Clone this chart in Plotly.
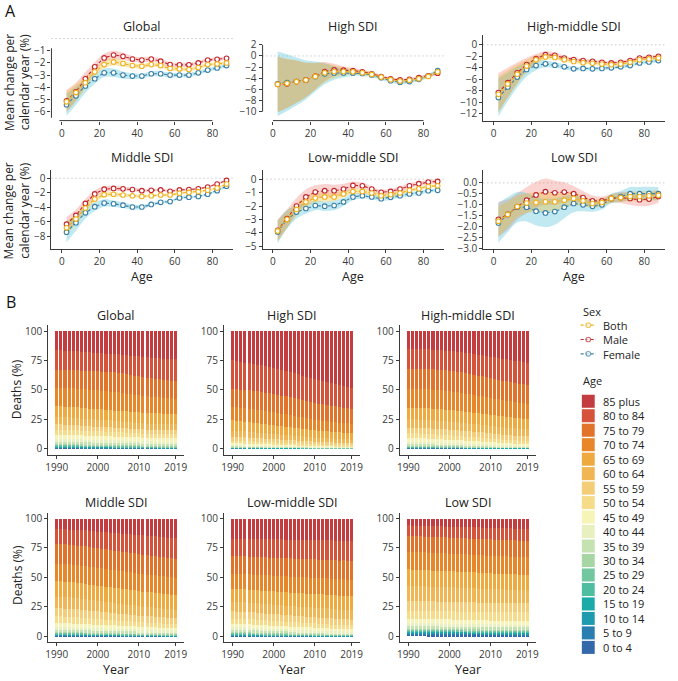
import plotly.graph_objects as go

W, H = 678, 681
FONT = "Open Sans"

# ---------------- Panel A: mean annual change by age ----------------
AGES = [2.5, 7.5, 12.5, 17.5, 22.5, 27.5, 32.5, 37.5, 42.5, 47.5,
        52.5, 57.5, 62.5, 67.5, 72.5, 77.5, 82.5, 87.5]

GLOBAL_BOTH = [-5.19, -4.43, -3.62, -2.73, -2.14, -1.92, -2.05, -2.22, -2.27, -2.14, -2.22, -2.46, -2.49, -2.54, -2.38, -2.14, -2.08, -2.00]
GLOBAL_MALE = [-5.11, -4.38, -3.30, -2.32, -1.59, -1.35, -1.46, -1.68, -1.76, -1.68, -1.86, -2.14, -2.16, -2.16, -2.00, -1.76, -1.70, -1.62]
GLOBAL_FEMALE = [-5.43, -4.70, -3.89, -3.30, -2.81, -2.81, -3.00, -3.08, -3.08, -2.89, -2.89, -3.00, -3.00, -3.00, -2.81, -2.59, -2.41, -2.22]
GLOBAL_BOTH_CI = [0.85, 0.7, 0.5, 0.35, 0.3, 0.3, 0.25, 0.2, 0.18, 0.18, 0.18, 0.18, 0.16, 0.15, 0.14, 0.13, 0.13, 0.13]
GLOBAL_MALE_CI = [0.9, 0.75, 0.55, 0.4, 0.35, 0.35, 0.3, 0.25, 0.2, 0.2, 0.2, 0.2, 0.18, 0.18, 0.16, 0.15, 0.15, 0.15]
GLOBAL_FEMALE_CI = [0.9, 0.75, 0.55, 0.4, 0.35, 0.35, 0.3, 0.25, 0.2, 0.2, 0.2, 0.2, 0.18, 0.17, 0.16, 0.15, 0.15, 0.15]

HIGH_BOTH = [-5.09, -4.91, -4.62, -4.32, -3.67, -3.02, -2.79, -2.79, -2.85, -3.02, -3.32, -3.79, -4.26, -4.50, -4.38, -4.09, -3.67, -2.85]
HIGH_MALE = [-5.1, -5.0, -4.6, -4.3, -3.6, -2.8, -2.5, -2.55, -2.65, -2.85, -3.2, -3.7, -4.1, -4.3, -4.2, -3.9, -3.55, -3.1]
HIGH_FEMALE = [-5.0, -4.8, -4.6, -4.3, -3.7, -3.2, -3.05, -3.05, -3.05, -3.15, -3.4, -3.9, -4.45, -4.7, -4.6, -4.2, -3.6, -2.65]
HIGH_BOTH_CI = [5.0, 4.4, 3.8, 3.1, 2.4, 1.7, 1.1, 0.7, 0.5, 0.4, 0.35, 0.3, 0.3, 0.3, 0.3, 0.3, 0.3, 0.3]
HIGH_MALE_CI = [5.0, 4.4, 3.8, 3.1, 2.4, 1.7, 1.1, 0.7, 0.5, 0.4, 0.35, 0.3, 0.3, 0.3, 0.3, 0.3, 0.3, 0.3]
HIGH_FEMALE_CI = [5.8, 5.1, 4.3, 3.5, 2.7, 1.9, 1.2, 0.8, 0.55, 0.45, 0.4, 0.35, 0.35, 0.35, 0.35, 0.35, 0.35, 0.35]

HM_BOTH = [-8.6, -6.8, -5.1, -3.7, -2.6, -2.1, -2.2, -2.6, -2.9, -3.1, -3.2, -3.35, -3.45, -3.35, -3.05, -2.6, -2.45, -2.3]
HM_MALE = [-8.29, -6.57, -4.86, -3.43, -2.40, -1.71, -1.83, -2.29, -2.57, -2.74, -2.86, -3.03, -3.14, -3.03, -2.74, -2.29, -2.17, -2.00]
HM_FEMALE = [-9.14, -7.31, -5.60, -4.29, -3.60, -3.31, -3.54, -3.83, -4.17, -4.11, -4.17, -4.11, -4.00, -3.83, -3.60, -3.14, -2.97, -2.74]
HM_BOTH_CI = [3.2, 2.4, 1.7, 1.1, 0.7, 0.5, 0.4, 0.35, 0.3, 0.25, 0.25, 0.25, 0.25, 0.25, 0.25, 0.25, 0.25, 0.25]
HM_MALE_CI = [3.4, 2.6, 1.8, 1.2, 0.8, 0.6, 0.5, 0.4, 0.35, 0.3, 0.3, 0.3, 0.3, 0.3, 0.3, 0.3, 0.3, 0.3]
HM_FEMALE_CI = [3.3, 2.5, 1.8, 1.2, 0.8, 0.6, 0.5, 0.4, 0.35, 0.3, 0.3, 0.3, 0.3, 0.3, 0.3, 0.3, 0.3, 0.3]

MID_BOTH = [-6.8, -5.6, -4.1, -2.85, -2.25, -2.2, -2.3, -2.4, -2.5, -2.4, -2.3, -2.3, -2.05, -1.95, -1.85, -1.65, -1.35, -0.8]
MID_MALE = [-6.3, -5.1, -3.45, -2.15, -1.5, -1.4, -1.45, -1.55, -1.7, -1.65, -1.6, -1.8, -1.6, -1.55, -1.45, -1.2, -0.8, -0.3]
MID_FEMALE = [-7.4, -6.1, -4.75, -3.9, -3.4, -3.5, -3.7, -3.95, -3.95, -3.6, -3.3, -3.2, -2.7, -2.6, -2.5, -2.2, -1.7, -1.1]
MID_BOTH_CI = [0.9, 0.7, 0.5, 0.4, 0.35, 0.3, 0.25, 0.2, 0.2, 0.18, 0.18, 0.18, 0.17, 0.15, 0.14, 0.13, 0.13, 0.13]
MID_MALE_CI = [1.0, 0.8, 0.6, 0.5, 0.4, 0.35, 0.3, 0.25, 0.25, 0.2, 0.2, 0.2, 0.2, 0.18, 0.16, 0.15, 0.15, 0.15]
MID_FEMALE_CI = [1.4, 1.1, 0.8, 0.6, 0.5, 0.45, 0.4, 0.35, 0.3, 0.25, 0.22, 0.2, 0.2, 0.18, 0.16, 0.15, 0.15, 0.15]

LM_BOTH = [-3.85, -2.99, -2.25, -1.69, -1.40, -1.32, -1.32, -1.10, -0.91, -0.91, -1.03, -1.23, -1.15, -1.03, -0.83, -0.71, -0.54, -0.49]
LM_MALE = [-3.80, -2.94, -2.00, -1.32, -0.96, -0.86, -0.86, -0.74, -0.47, -0.49, -0.74, -0.98, -0.91, -0.74, -0.49, -0.34, -0.22, -0.17]
LM_FEMALE = [-3.92, -2.99, -2.45, -2.18, -1.96, -2.01, -1.96, -1.69, -1.32, -1.23, -1.32, -1.45, -1.35, -1.23, -1.10, -1.03, -0.86, -0.83]
LM_BOTH_CI = [0.75, 0.6, 0.45, 0.4, 0.35, 0.35, 0.3, 0.25, 0.2, 0.18, 0.15, 0.15, 0.15, 0.15, 0.13, 0.12, 0.12, 0.12]
LM_MALE_CI = [0.8, 0.7, 0.6, 0.55, 0.5, 0.5, 0.45, 0.4, 0.3, 0.25, 0.2, 0.2, 0.2, 0.2, 0.18, 0.16, 0.15, 0.15]
LM_FEMALE_CI = [0.85, 0.7, 0.5, 0.4, 0.35, 0.35, 0.35, 0.3, 0.25, 0.2, 0.18, 0.18, 0.18, 0.16, 0.15, 0.14, 0.13, 0.13]

LOW_BOTH = [-1.75, -1.44, -1.08, -0.92, -0.89, -0.86, -0.86, -0.79, -0.71, -0.82, -0.94, -0.89, -0.71, -0.67, -0.62, -0.62, -0.59, -0.56]
LOW_MALE = [-1.66, -1.44, -1.08, -0.79, -0.55, -0.40, -0.45, -0.42, -0.49, -0.67, -0.82, -0.82, -0.71, -0.67, -0.71, -0.77, -0.74, -0.62]
LOW_FEMALE = [-1.83, -1.44, -1.11, -1.11, -1.29, -1.37, -1.31, -1.11, -0.94, -1.00, -1.07, -1.00, -0.71, -0.62, -0.49, -0.49, -0.48, -0.49]
LOW_BOTH_CI = [0.7, 0.6, 0.5, 0.45, 0.45, 0.45, 0.4, 0.35, 0.3, 0.25, 0.2, 0.18, 0.18, 0.2, 0.22, 0.22, 0.22, 0.22]
LOW_MALE_CI = [0.8, 0.7, 0.6, 0.6, 0.6, 0.6, 0.55, 0.45, 0.35, 0.3, 0.25, 0.2, 0.2, 0.25, 0.3, 0.3, 0.3, 0.3]
LOW_FEMALE_CI = [0.9, 0.8, 0.7, 0.65, 0.65, 0.65, 0.6, 0.5, 0.4, 0.3, 0.25, 0.22, 0.22, 0.25, 0.3, 0.3, 0.3, 0.3]

A_XTICKS = [0, 20, 40, 60, 80]
A_YTICKS = [
    [-6, -5, -4, -3, -2, -1],
    [-10, -8, -6, -4, -2, 0, 2],
    [-12, -10, -8, -6, -4, -2, 0],
    [-8, -6, -4, -2, 0],
    [-5, -4, -3, -2, -1, 0],
    [-3.0, -2.5, -2.0, -1.5, -1.0, -0.5, 0.0],
]

# ---------------- Panel B: share of deaths by age group ----------------
YEARS = [1990, 1991, 1992, 1993, 1994, 1995, 1996, 1997, 1998, 1999,
         2000, 2001, 2002, 2003, 2004, 2005, 2006, 2007, 2008, 2009,
         2010, 2011, 2012, 2013, 2014, 2015, 2016, 2017, 2018, 2019]
B_XTICKS = [1990, 2000, 2010, 2019]
B_YTICKS = [0, 25, 50, 75, 100]

AGE_GROUPS = ["0 to 4", "5 to 9", "10 to 14", "15 to 19", "20 to 24", "25 to 29",
              "30 to 34", "35 to 39", "40 to 44", "45 to 49", "50 to 54", "55 to 59",
              "60 to 64", "65 to 69", "70 to 74", "75 to 79", "80 to 84", "85 plus"]
AGE_COLORS = ["#3468a8", "#2a7fb0", "#1f9bb0", "#1aaba8", "#4fbea0", "#72c6a0",
              "#a5d6a4", "#c4e3b0", "#e8f0c0", "#f7f4b8", "#f6db88", "#f3cd77",
              "#efb653", "#eea93f", "#e7872a", "#e2732b", "#d5533b", "#c33d40"]

# one string per age group (0 to 4 first), one value per year 1990..2019
GLOBAL_SHARES = [
    "0.5 0.5 0.5 0.5 0.5 0.5 0.4 0.4 0.4 0.4 0.4 0.4 0.4 0.4 0.3 0.3 0.3 0.3 0.3 0.3 0.3 0.3 0.3 0.3 0.3 0.2 0.2 0.2 0.2 0.2",
    "0.3 0.3 0.3 0.3 0.3 0.3 0.3 0.3 0.3 0.3 0.3 0.3 0.3 0.3 0.2 0.2 0.2 0.2 0.2 0.2 0.2 0.2 0.2 0.2 0.2 0.2 0.2 0.2 0.2 0.2",
    "0.4 0.4 0.4 0.4 0.4 0.4 0.4 0.4 0.4 0.3 0.3 0.3 0.3 0.3 0.3 0.3 0.3 0.3 0.3 0.3 0.3 0.3 0.3 0.3 0.2 0.2 0.2 0.2 0.2 0.2",
    "0.5 0.5 0.5 0.5 0.5 0.5 0.5 0.4 0.4 0.4 0.4 0.4 0.4 0.4 0.4 0.4 0.4 0.4 0.3 0.3 0.3 0.3 0.3 0.3 0.3 0.3 0.3 0.3 0.3 0.3",
    "0.7 0.7 0.7 0.7 0.7 0.6 0.6 0.6 0.6 0.6 0.6 0.6 0.5 0.5 0.5 0.5 0.5 0.5 0.5 0.5 0.5 0.4 0.4 0.4 0.4 0.4 0.4 0.4 0.4 0.4",
    "0.8 0.8 0.8 0.8 0.8 0.8 0.8 0.7 0.7 0.7 0.7 0.7 0.7 0.7 0.7 0.7 0.7 0.7 0.6 0.6 0.6 0.6 0.6 0.6 0.6 0.6 0.6 0.6 0.6 0.6",
    "1.1 1.1 1.1 1.1 1.1 1.0 1.0 1.0 1.0 1.0 1.0 1.0 0.9 0.9 0.9 0.9 0.9 0.9 0.9 0.9 0.9 0.8 0.8 0.8 0.8 0.8 0.8 0.8 0.8 0.8",
    "1.7 1.7 1.7 1.7 1.6 1.6 1.6 1.6 1.5 1.5 1.5 1.5 1.4 1.4 1.4 1.4 1.4 1.3 1.3 1.3 1.3 1.3 1.3 1.2 1.2 1.2 1.2 1.2 1.2 1.2",
    "2.5 2.5 2.5 2.5 2.4 2.4 2.4 2.4 2.3 2.3 2.3 2.3 2.2 2.2 2.2 2.2 2.1 2.1 2.1 2.1 2.1 2.0 2.0 2.0 2.0 2.0 2.0 2.0 2.0 2.0",
    "3.4 3.4 3.4 3.4 3.3 3.3 3.3 3.3 3.3 3.2 3.2 3.2 3.2 3.2 3.1 3.1 3.1 3.1 3.1 3.1 3.0 3.0 3.0 3.0 3.0 3.0 3.0 3.0 3.0 3.0",
    "4.3 4.3 4.2 4.2 4.1 4.1 4.0 4.0 3.9 3.9 3.8 3.8 3.7 3.7 3.6 3.6 3.5 3.5 3.5 3.4 3.4 3.4 3.4 3.3 3.3 3.3 3.3 3.3 3.3 3.3",
    "4.5 4.5 4.4 4.4 4.3 4.3 4.2 4.2 4.1 4.1 4.0 4.0 3.9 3.9 3.8 3.8 3.7 3.7 3.6 3.6 3.6 3.5 3.5 3.5 3.5 3.4 3.4 3.4 3.4 3.4",
    "6.3 6.3 6.2 6.2 6.1 6.1 6.0 6.0 5.9 5.9 5.8 5.7 5.6 5.5 5.4 5.3 5.2 5.1 5.1 5.0 5.0 5.0 5.0 5.0 5.0 5.0 5.0 5.0 5.0 5.0",
    "9.1 9.1 9.1 9.2 9.2 9.2 9.2 9.1 9.0 8.9 8.8 8.7 8.6 8.5 8.5 8.5 8.6 8.7 8.8 8.8 8.9 8.9 9.0 9.0 9.0 9.0 9.0 9.0 9.0 9.0",
    "15.9 15.9 15.9 15.9 15.9 15.9 15.9 15.9 15.9 15.9 15.9 15.8 15.7 15.5 15.3 15.1 14.9 14.7 14.6 14.5 14.5 14.3 14.1 13.9 13.7 13.5 13.3 13.2 13.0 12.9",
    "15.0 15.1 15.2 15.3 15.4 15.5 15.6 15.7 15.8 15.9 15.9 16.0 16.1 16.2 16.2 16.2 16.1 16.0 15.9 15.8 15.7 15.6 15.5 15.4 15.3 15.2 15.2 15.1 15.1 15.0",
    "16.8 16.7 16.5 16.4 16.2 16.1 16.0 15.8 15.7 15.5 15.4 15.3 15.2 15.1 15.0 15.0 15.3 15.7 16.0 16.4 16.7 16.9 17.1 17.3 17.5 17.7 17.8 18.0 18.1 18.3",
    "16.2 16.4 16.6 16.8 17.0 17.2 17.5 17.8 18.0 18.2 18.5 18.6 18.7 18.8 18.9 19.0 19.4 19.8 20.3 20.8 21.3 21.6 21.9 22.2 22.5 22.8 23.1 23.4 23.8 24.1",
]

HIGH_SHARES = [
    "0.3 0.3 0.3 0.3 0.3 0.3 0.2 0.2 0.2 0.2 0.2 0.2 0.2 0.2 0.2 0.2 0.2 0.1 0.1 0.1 0.1 0.1 0.1 0.1 0.1 0.1 0.1 0.1 0.1 0.1",
    "0.1 0.1 0.1 0.1 0.1 0.1 0.1 0.1 0.1 0.1 0.1 0.1 0.1 0.1 0.1 0.1 0.1 0.1 0.1 0.1 0.05 0.05 0.05 0.05 0.05 0.05 0.05 0.05 0.05 0.05",
    "0.1 0.1 0.1 0.1 0.1 0.1 0.1 0.1 0.1 0.1 0.1 0.1 0.1 0.1 0.1 0.1 0.1 0.1 0.1 0.1 0.05 0.05 0.05 0.05 0.05 0.05 0.05 0.05 0.05 0.05",
    "0.2 0.2 0.2 0.2 0.2 0.2 0.2 0.2 0.2 0.2 0.2 0.2 0.1 0.1 0.1 0.1 0.1 0.1 0.1 0.1 0.1 0.1 0.1 0.1 0.1 0.1 0.1 0.1 0.1 0.1",
    "0.2 0.2 0.2 0.2 0.2 0.2 0.2 0.2 0.2 0.2 0.2 0.2 0.1 0.1 0.1 0.1 0.1 0.1 0.1 0.1 0.1 0.1 0.1 0.1 0.1 0.1 0.1 0.1 0.1 0.1",
    "0.3 0.3 0.3 0.3 0.3 0.3 0.3 0.2 0.2 0.2 0.2 0.2 0.2 0.2 0.2 0.2 0.2 0.2 0.2 0.1 0.1 0.1 0.1 0.1 0.1 0.1 0.1 0.1 0.1 0.1",
    "0.4 0.4 0.4 0.4 0.4 0.4 0.4 0.4 0.3 0.3 0.3 0.3 0.3 0.3 0.3 0.3 0.3 0.3 0.3 0.3 0.2 0.2 0.2 0.2 0.2 0.2 0.2 0.2 0.2 0.2",
    "0.6 0.6 0.6 0.6 0.6 0.5 0.5 0.5 0.5 0.5 0.5 0.5 0.4 0.4 0.4 0.4 0.4 0.4 0.4 0.4 0.4 0.3 0.3 0.3 0.3 0.3 0.3 0.3 0.3 0.3",
    "0.9 0.9 0.9 0.9 0.8 0.8 0.8 0.8 0.8 0.7 0.7 0.7 0.7 0.7 0.6 0.6 0.6 0.6 0.6 0.5 0.5 0.5 0.5 0.5 0.5 0.4 0.4 0.4 0.4 0.4",
    "1.4 1.4 1.4 1.3 1.3 1.3 1.3 1.2 1.2 1.2 1.1 1.1 1.1 1.0 1.0 1.0 0.9 0.9 0.9 0.8 0.8 0.8 0.8 0.7 0.7 0.7 0.7 0.6 0.6 0.6",
    "2.2 2.2 2.1 2.1 2.1 2.0 2.0 1.9 1.9 1.8 1.8 1.7 1.7 1.6 1.6 1.5 1.5 1.4 1.4 1.3 1.3 1.3 1.2 1.2 1.2 1.1 1.1 1.1 1.0 1.0",
    "3.3 3.3 3.2 3.2 3.1 3.1 3.0 3.0 2.9 2.9 2.8 2.8 2.7 2.7 2.6 2.6 2.5 2.5 2.4 2.4 2.3 2.3 2.2 2.2 2.1 2.0 2.0 1.9 1.9 1.8",
    "5.2 5.2 5.1 5.1 5.0 4.9 4.8 4.7 4.6 4.5 4.4 4.3 4.2 4.1 4.0 3.9 3.8 3.7 3.7 3.6 3.5 3.5 3.4 3.4 3.3 3.3 3.2 3.1 3.1 3.0",
    "8.8 8.7 8.6 8.5 8.4 8.3 8.2 8.1 8.0 7.8 7.7 7.5 7.3 7.1 6.9 6.7 6.5 6.3 6.2 6.1 6.0 5.9 5.8 5.7 5.6 5.5 5.4 5.3 5.3 5.2",
    "11.6 11.6 11.6 11.6 11.5 11.5 11.4 11.3 11.2 11.1 11.0 10.9 10.8 10.6 10.4 10.2 10.0 9.8 9.6 9.4 9.2 9.0 8.9 8.8 8.6 8.5 8.4 8.2 8.1 8.0",
    "15.2 15.3 15.4 15.5 15.6 15.7 15.8 15.8 15.8 15.8 15.7 15.6 15.5 15.4 15.3 15.2 15.0 14.8 14.6 14.4 14.2 14.0 13.9 13.8 13.6 13.5 13.4 13.2 13.1 13.0",
    "24.2 24.0 23.8 23.6 23.4 23.2 23.0 22.8 22.6 22.4 22.2 22.0 21.8 21.6 21.4 21.2 21.0 20.8 20.6 20.4 20.2 19.9 19.7 19.4 19.2 18.9 18.7 18.5 18.2 18.0",
    "25.0 25.7 26.4 27.0 27.6 28.2 28.9 29.6 30.3 31.0 31.8 32.6 33.4 34.3 35.2 36.1 37.0 37.9 38.8 39.7 40.6 41.5 42.3 43.1 43.9 44.7 45.5 46.3 47.1 48.0",
]

HM_SHARES = [
    "0.4 0.4 0.4 0.4 0.4 0.4 0.4 0.3 0.3 0.3 0.3 0.3 0.3 0.3 0.3 0.3 0.3 0.3 0.2 0.2 0.2 0.2 0.2 0.2 0.2 0.2 0.2 0.2 0.2 0.2",
    "0.2 0.2 0.2 0.2 0.2 0.2 0.2 0.2 0.2 0.2 0.2 0.2 0.2 0.2 0.1 0.1 0.1 0.1 0.1 0.1 0.1 0.1 0.1 0.1 0.1 0.1 0.1 0.1 0.1 0.1",
    "0.2 0.2 0.2 0.2 0.2 0.2 0.2 0.2 0.2 0.2 0.2 0.2 0.2 0.2 0.1 0.1 0.1 0.1 0.1 0.1 0.1 0.1 0.1 0.1 0.1 0.1 0.1 0.1 0.1 0.1",
    "0.3 0.3 0.3 0.3 0.3 0.3 0.3 0.3 0.2 0.2 0.2 0.2 0.2 0.2 0.2 0.2 0.2 0.2 0.2 0.1 0.1 0.1 0.1 0.1 0.1 0.1 0.1 0.1 0.1 0.1",
    "0.4 0.4 0.4 0.4 0.4 0.4 0.3 0.3 0.3 0.3 0.3 0.3 0.3 0.2 0.2 0.2 0.2 0.2 0.2 0.2 0.2 0.2 0.1 0.1 0.1 0.1 0.1 0.1 0.1 0.1",
    "0.5 0.5 0.5 0.5 0.5 0.5 0.5 0.4 0.4 0.4 0.4 0.4 0.4 0.4 0.3 0.3 0.3 0.3 0.3 0.3 0.3 0.3 0.2 0.2 0.2 0.2 0.2 0.2 0.2 0.2",
    "0.8 0.8 0.8 0.8 0.8 0.7 0.7 0.7 0.7 0.7 0.6 0.6 0.6 0.6 0.6 0.5 0.5 0.5 0.5 0.5 0.4 0.4 0.4 0.4 0.4 0.4 0.3 0.3 0.3 0.3",
    "1.2 1.2 1.2 1.2 1.2 1.1 1.1 1.1 1.1 1.0 1.0 1.0 1.0 0.9 0.9 0.9 0.9 0.8 0.8 0.8 0.7 0.7 0.7 0.7 0.6 0.6 0.6 0.6 0.5 0.5",
    "2.0 2.0 2.0 1.9 1.9 1.9 1.8 1.8 1.8 1.7 1.7 1.7 1.6 1.6 1.5 1.5 1.5 1.4 1.4 1.3 1.3 1.2 1.2 1.1 1.1 1.1 1.0 1.0 0.9 0.9",
    "3.0 3.0 3.0 2.9 2.9 2.9 2.8 2.8 2.7 2.7 2.6 2.6 2.5 2.5 2.4 2.4 2.3 2.3 2.2 2.2 2.1 2.0 2.0 1.9 1.8 1.8 1.7 1.6 1.6 1.5",
    "4.0 4.0 4.0 4.0 3.9 3.9 3.9 3.8 3.8 3.7 3.7 3.6 3.6 3.5 3.4 3.4 3.3 3.3 3.2 3.2 3.1 3.0 3.0 2.9 2.8 2.8 2.7 2.6 2.6 2.5",
    "5.0 5.0 5.0 5.0 5.0 5.0 4.9 4.9 4.9 4.8 4.8 4.8 4.7 4.7 4.6 4.6 4.5 4.5 4.5 4.4 4.4 4.3 4.3 4.2 4.2 4.2 4.1 4.1 4.0 4.0",
    "7.0 7.0 7.0 7.0 7.0 7.0 6.9 6.9 6.9 6.8 6.8 6.7 6.7 6.6 6.6 6.5 6.5 6.4 6.4 6.3 6.3 6.3 6.2 6.2 6.1 6.1 6.1 6.0 6.0 6.0",
    "10.0 10.0 10.0 10.0 10.0 10.0 10.0 9.9 9.9 9.9 9.8 9.8 9.7 9.7 9.6 9.6 9.5 9.5 9.4 9.4 9.3 9.3 9.3 9.2 9.2 9.1 9.1 9.1 9.0 9.0",
    "16.0 16.0 16.0 16.0 16.0 16.0 16.0 16.0 15.9 15.8 15.7 15.6 15.5 15.4 15.2 15.0 14.8 14.6 14.4 14.3 14.2 14.0 13.9 13.8 13.6 13.5 13.4 13.2 13.1 13.0",
    "17.0 17.1 17.2 17.3 17.4 17.5 17.5 17.5 17.5 17.4 17.4 17.3 17.3 17.2 17.2 17.1 17.0 16.9 16.8 16.8 16.7 16.6 16.5 16.4 16.4 16.3 16.2 16.1 16.1 16.0",
    "17.0 17.0 16.9 16.9 16.8 16.8 16.7 16.7 16.6 16.6 16.5 16.6 16.7 16.8 17.0 17.2 17.4 17.6 17.8 18.0 18.2 18.3 18.4 18.5 18.6 18.7 18.8 18.9 19.0 19.0",
    "15.0 15.1 15.2 15.3 15.4 15.5 15.7 15.9 16.1 16.4 16.7 17.0 17.4 17.8 18.3 18.8 19.3 19.8 20.4 21.0 21.6 22.2 22.8 23.4 24.0 24.6 25.2 25.8 26.4 27.0",
]

MID_SHARES = [
    "0.8 0.8 0.8 0.8 0.7 0.7 0.7 0.7 0.6 0.6 0.6 0.6 0.5 0.5 0.5 0.5 0.4 0.4 0.4 0.4 0.3 0.3 0.3 0.3 0.3 0.3 0.2 0.2 0.2 0.2",
    "0.4 0.4 0.4 0.4 0.4 0.4 0.4 0.4 0.3 0.3 0.3 0.3 0.3 0.3 0.3 0.3 0.3 0.3 0.3 0.3 0.2 0.2 0.2 0.2 0.2 0.2 0.2 0.2 0.2 0.2",
    "0.4 0.4 0.4 0.4 0.4 0.4 0.4 0.4 0.3 0.3 0.3 0.3 0.3 0.3 0.3 0.3 0.3 0.3 0.3 0.3 0.2 0.2 0.2 0.2 0.2 0.2 0.2 0.2 0.2 0.2",
    "0.4 0.4 0.4 0.4 0.4 0.4 0.4 0.4 0.4 0.4 0.4 0.4 0.4 0.4 0.4 0.3 0.3 0.3 0.3 0.3 0.3 0.3 0.3 0.3 0.3 0.3 0.3 0.3 0.3 0.3",
    "0.5 0.5 0.5 0.5 0.5 0.5 0.5 0.5 0.5 0.5 0.5 0.5 0.5 0.5 0.5 0.4 0.4 0.4 0.4 0.4 0.4 0.4 0.4 0.4 0.4 0.4 0.4 0.4 0.4 0.4",
    "0.7 0.7 0.7 0.7 0.7 0.7 0.7 0.7 0.7 0.6 0.6 0.6 0.6 0.6 0.6 0.6 0.6 0.6 0.6 0.6 0.5 0.5 0.5 0.5 0.5 0.5 0.5 0.5 0.5 0.5",
    "0.8 0.8 0.8 0.8 0.8 0.8 0.8 0.8 0.8 0.8 0.8 0.8 0.8 0.8 0.8 0.7 0.7 0.7 0.7 0.7 0.7 0.7 0.7 0.7 0.7 0.7 0.7 0.7 0.7 0.7",
    "1.5 1.5 1.5 1.5 1.4 1.4 1.4 1.4 1.4 1.3 1.3 1.3 1.3 1.3 1.2 1.2 1.2 1.2 1.2 1.1 1.1 1.1 1.1 1.1 1.1 1.0 1.0 1.0 1.0 1.0",
    "2.1 2.1 2.1 2.1 2.0 2.0 2.0 2.0 1.9 1.9 1.9 1.9 1.8 1.8 1.8 1.8 1.7 1.7 1.7 1.7 1.6 1.6 1.6 1.6 1.6 1.5 1.5 1.5 1.5 1.5",
    "3.6 3.6 3.5 3.5 3.4 3.4 3.3 3.3 3.2 3.2 3.1 3.0 3.0 2.9 2.8 2.8 2.7 2.7 2.6 2.6 2.5 2.5 2.4 2.4 2.3 2.2 2.2 2.1 2.1 2.0",
    "5.6 5.6 5.5 5.5 5.4 5.3 5.2 5.1 5.0 4.9 4.8 4.7 4.6 4.5 4.4 4.3 4.2 4.1 4.1 4.0 3.9 3.9 3.8 3.8 3.7 3.6 3.6 3.5 3.5 3.4",
    "7.0 7.0 6.9 6.9 6.8 6.8 6.7 6.7 6.6 6.6 6.5 6.4 6.3 6.3 6.2 6.1 6.0 5.9 5.8 5.8 5.7 5.6 5.5 5.5 5.4 5.3 5.2 5.2 5.1 5.0",
    "9.8 9.8 9.7 9.7 9.6 9.5 9.4 9.3 9.2 9.1 9.0 8.9 8.8 8.7 8.6 8.5 8.4 8.3 8.2 8.1 8.0 7.9 7.8 7.7 7.6 7.5 7.4 7.3 7.1 7.0",
    "13.2 13.2 13.2 13.2 13.2 13.2 13.2 13.1 13.1 13.1 13.1 13.0 13.0 13.0 13.0 12.9 12.9 12.9 12.9 12.8 12.8 12.8 12.8 12.7 12.7 12.7 12.7 12.6 12.6 12.6",
    "14.8 14.8 14.9 14.9 15.0 15.0 15.1 15.1 15.1 15.1 15.1 15.1 15.0 15.0 15.0 15.0 14.9 14.9 14.9 14.9 14.8 14.8 14.8 14.8 14.7 14.7 14.7 14.7 14.6 14.6",
    "16.8 16.8 16.8 16.8 16.8 16.8 16.8 16.8 16.8 16.8 16.8 16.7 16.7 16.7 16.7 16.6 16.6 16.6 16.6 16.5 16.5 16.5 16.5 16.4 16.4 16.4 16.3 16.3 16.2 16.2",
    "12.6 12.7 12.8 12.9 13.0 13.2 13.4 13.6 13.8 14.0 14.2 14.4 14.6 14.8 15.0 15.2 15.4 15.6 15.8 16.0 16.2 16.4 16.5 16.6 16.8 16.9 17.0 17.1 17.3 17.4",
    "9.0 9.1 9.3 9.4 9.6 9.8 10.0 10.2 10.5 10.8 11.1 11.4 11.7 12.0 12.3 12.6 12.9 13.2 13.5 13.8 14.1 14.4 14.7 15.0 15.3 15.6 15.9 16.2 16.5 16.8",
]

LM_SHARES = [
    "0.5 0.5 0.5 0.5 0.5 0.4 0.4 0.4 0.4 0.4 0.4 0.4 0.3 0.3 0.3 0.3 0.3 0.3 0.3 0.3 0.3 0.2 0.2 0.2 0.2 0.2 0.2 0.2 0.2 0.2",
    "0.3 0.3 0.3 0.3 0.3 0.3 0.3 0.3 0.2 0.2 0.2 0.2 0.2 0.2 0.2 0.2 0.2 0.2 0.2 0.2 0.1 0.1 0.1 0.1 0.1 0.1 0.1 0.1 0.1 0.1",
    "0.4 0.4 0.4 0.4 0.4 0.4 0.4 0.3 0.3 0.3 0.3 0.3 0.3 0.3 0.3 0.3 0.3 0.3 0.2 0.2 0.2 0.2 0.2 0.2 0.2 0.2 0.2 0.2 0.2 0.2",
    "0.5 0.5 0.5 0.5 0.5 0.5 0.4 0.4 0.4 0.4 0.4 0.4 0.4 0.4 0.3 0.3 0.3 0.3 0.3 0.3 0.3 0.3 0.3 0.2 0.2 0.2 0.2 0.2 0.2 0.2",
    "0.6 0.6 0.6 0.6 0.6 0.6 0.5 0.5 0.5 0.5 0.5 0.5 0.5 0.5 0.4 0.4 0.4 0.4 0.4 0.4 0.4 0.4 0.4 0.3 0.3 0.3 0.3 0.3 0.3 0.3",
    "0.8 0.8 0.8 0.8 0.8 0.7 0.7 0.7 0.7 0.7 0.7 0.6 0.6 0.6 0.6 0.6 0.6 0.5 0.5 0.5 0.5 0.5 0.5 0.5 0.4 0.4 0.4 0.4 0.4 0.4",
    "1.0 1.0 1.0 1.0 0.9 0.9 0.9 0.9 0.9 0.8 0.8 0.8 0.8 0.8 0.7 0.7 0.7 0.7 0.7 0.6 0.6 0.6 0.6 0.6 0.6 0.5 0.5 0.5 0.5 0.5",
    "1.4 1.4 1.4 1.4 1.3 1.3 1.3 1.3 1.2 1.2 1.2 1.2 1.1 1.1 1.1 1.1 1.0 1.0 1.0 1.0 1.0 0.9 0.9 0.9 0.9 0.9 0.8 0.8 0.8 0.8",
    "2.0 2.0 2.0 2.0 1.9 1.9 1.9 1.9 1.8 1.8 1.8 1.7 1.7 1.7 1.6 1.6 1.6 1.5 1.5 1.5 1.4 1.4 1.4 1.4 1.3 1.3 1.3 1.3 1.2 1.2",
    "3.0 3.0 3.0 3.0 2.9 2.9 2.9 2.8 2.8 2.8 2.7 2.7 2.7 2.6 2.6 2.5 2.5 2.5 2.4 2.4 2.4 2.3 2.3 2.3 2.2 2.2 2.1 2.1 2.0 2.0",
    "4.5 4.5 4.5 4.4 4.4 4.4 4.3 4.3 4.2 4.2 4.1 4.1 4.0 4.0 3.9 3.9 3.8 3.8 3.7 3.7 3.6 3.6 3.6 3.5 3.5 3.4 3.4 3.4 3.3 3.3",
    "6.0 6.0 6.0 6.0 5.9 5.9 5.9 5.8 5.8 5.8 5.7 5.7 5.7 5.6 5.6 5.5 5.5 5.5 5.4 5.4 5.4 5.3 5.3 5.3 5.2 5.2 5.1 5.1 5.0 5.0",
    "8.0 8.0 8.0 8.0 8.0 8.0 8.0 8.0 8.0 8.0 8.0 8.0 8.0 8.0 8.0 8.0 8.0 8.0 8.0 8.0 8.0 8.0 8.0 8.0 8.0 8.0 8.0 8.0 8.0 8.0",
    "11.0 11.0 11.0 11.1 11.1 11.1 11.2 11.2 11.2 11.3 11.3 11.3 11.4 11.4 11.4 11.5 11.5 11.5 11.6 11.6 11.6 11.7 11.7 11.7 11.8 11.8 11.8 11.9 11.9 12.0",
    "13.0 13.0 13.0 13.1 13.1 13.1 13.2 13.2 13.2 13.3 13.3 13.3 13.4 13.4 13.4 13.5 13.5 13.5 13.6 13.6 13.6 13.7 13.7 13.7 13.8 13.8 13.8 13.9 13.9 14.0",
    "15.0 15.0 15.1 15.1 15.1 15.2 15.2 15.2 15.3 15.3 15.3 15.4 15.4 15.4 15.5 15.5 15.5 15.6 15.6 15.6 15.7 15.7 15.7 15.8 15.8 15.8 15.9 15.9 16.0 16.0",
    "15.0 15.1 15.1 15.2 15.3 15.3 15.4 15.5 15.5 15.6 15.7 15.7 15.8 15.9 15.9 16.0 16.1 16.1 16.2 16.3 16.3 16.4 16.5 16.5 16.6 16.7 16.8 16.8 16.9 17.0",
    "17.0 17.1 17.1 17.2 17.3 17.3 17.4 17.5 17.5 17.6 17.7 17.7 17.8 17.9 17.9 18.0 18.1 18.1 18.2 18.3 18.3 18.4 18.5 18.5 18.6 18.7 18.8 18.8 18.9 19.0",
]

LOW_SHARES = [
    "1.7 1.7 1.7 1.7 1.7 1.6 1.6 1.6 1.6 1.6 1.6 1.6 1.5 1.5 1.5 1.5 1.5 1.5 1.4 1.4 1.4 1.4 1.4 1.4 1.4 1.3 1.3 1.3 1.3 1.3",
    "0.8 0.8 0.8 0.8 0.8 0.8 0.8 0.8 0.8 0.8 0.8 0.8 0.8 0.8 0.8 0.7 0.7 0.7 0.7 0.7 0.7 0.7 0.7 0.7 0.7 0.7 0.7 0.7 0.7 0.7",
    "0.9 0.9 0.9 0.9 0.9 0.9 0.9 0.9 0.8 0.8 0.8 0.8 0.8 0.8 0.8 0.8 0.8 0.8 0.8 0.8 0.7 0.7 0.7 0.7 0.7 0.7 0.7 0.7 0.7 0.7",
    "0.8 0.8 0.8 0.8 0.8 0.8 0.8 0.8 0.8 0.8 0.8 0.8 0.8 0.8 0.8 0.7 0.7 0.7 0.7 0.7 0.7 0.7 0.7 0.7 0.7 0.7 0.7 0.7 0.7 0.7",
    "0.8 0.8 0.8 0.8 0.8 0.8 0.8 0.8 0.8 0.8 0.8 0.8 0.8 0.8 0.8 0.7 0.7 0.7 0.7 0.7 0.7 0.7 0.7 0.7 0.7 0.7 0.7 0.7 0.7 0.7",
    "0.9 0.9 0.9 0.9 0.9 0.9 0.9 0.9 0.9 0.9 0.9 0.9 0.9 0.9 0.9 0.9 0.9 0.9 0.9 0.9 0.9 0.9 0.9 0.9 0.9 0.9 0.9 0.9 0.9 0.9",
    "1.1 1.1 1.1 1.1 1.1 1.1 1.1 1.1 1.1 1.1 1.1 1.1 1.1 1.1 1.1 1.2 1.2 1.2 1.2 1.2 1.2 1.2 1.2 1.2 1.2 1.2 1.2 1.2 1.2 1.2",
    "1.4 1.4 1.4 1.4 1.4 1.4 1.4 1.4 1.4 1.4 1.4 1.4 1.4 1.4 1.4 1.3 1.3 1.3 1.3 1.3 1.3 1.3 1.3 1.3 1.3 1.3 1.3 1.3 1.3 1.3",
    "2.8 2.8 2.8 2.7 2.7 2.7 2.7 2.6 2.6 2.6 2.6 2.6 2.5 2.5 2.5 2.5 2.5 2.4 2.4 2.4 2.4 2.4 2.4 2.3 2.3 2.3 2.3 2.3 2.3 2.3",
    "3.6 3.6 3.6 3.6 3.6 3.5 3.5 3.5 3.5 3.5 3.5 3.4 3.4 3.4 3.4 3.4 3.4 3.4 3.4 3.3 3.3 3.3 3.3 3.3 3.3 3.3 3.3 3.3 3.3 3.3",
    "6.7 6.7 6.7 6.8 6.8 6.8 6.8 6.9 6.9 6.9 6.9 7.0 7.0 7.0 7.0 7.0 7.1 7.1 7.1 7.1 7.1 7.2 7.2 7.2 7.2 7.2 7.3 7.3 7.3 7.3",
    "8.4 8.4 8.4 8.3 8.3 8.3 8.2 8.2 8.2 8.1 8.1 8.1 8.0 8.0 8.0 7.9 7.9 7.9 7.8 7.8 7.8 7.7 7.7 7.7 7.6 7.6 7.6 7.5 7.5 7.5",
    "12.8 12.8 12.7 12.7 12.6 12.6 12.5 12.5 12.4 12.4 12.3 12.3 12.2 12.2 12.1 12.0 12.0 11.9 11.9 11.8 11.8 11.7 11.7 11.6 11.6 11.5 11.4 11.4 11.3 11.2",
    "14.0 14.0 14.0 13.9 13.9 13.9 13.8 13.8 13.8 13.7 13.7 13.7 13.6 13.6 13.6 13.5 13.5 13.5 13.4 13.4 13.4 13.3 13.3 13.3 13.2 13.2 13.2 13.1 13.1 13.1",
    "15.1 15.1 15.1 15.1 15.1 15.1 15.0 15.0 15.0 15.0 15.0 15.0 15.0 15.0 15.0 14.9 14.9 14.9 14.9 14.9 14.9 14.9 14.9 14.9 14.8 14.8 14.8 14.8 14.8 14.8",
    "13.4 13.4 13.4 13.5 13.5 13.5 13.5 13.6 13.6 13.6 13.6 13.7 13.7 13.7 13.7 13.7 13.8 13.8 13.8 13.8 13.8 13.9 13.9 13.9 13.9 13.9 14.0 14.0 14.0 14.0",
    "8.9 8.9 9.0 9.0 9.1 9.1 9.2 9.2 9.3 9.3 9.4 9.4 9.5 9.5 9.6 9.6 9.7 9.7 9.7 9.8 9.8 9.9 9.9 10.0 10.0 10.1 10.1 10.2 10.2 10.3",
    "5.9 6.0 6.1 6.2 6.3 6.4 6.5 6.6 6.7 6.8 6.9 7.0 7.1 7.2 7.3 7.4 7.5 7.6 7.7 7.8 7.9 8.0 8.1 8.2 8.3 8.4 8.5 8.6 8.6 8.7",
]

SEXES = ["Both", "Male", "Female"]
SEX_LINE = {"Both": "#efb21e", "Male": "#c0272d", "Female": "#3b7fa6"}
SEX_FILL = {"Both": "rgba(240,185,30,0.32)",
            "Male": "rgba(240,100,90,0.28)",
            "Female": "rgba(70,190,215,0.34)"}
RIBBON_ORDER = ["Male", "Female", "Both"]
LINE_ORDER = ["Female", "Male", "Both"]

A_PANELS = [
    ("Global", {"Both": (GLOBAL_BOTH, GLOBAL_BOTH_CI), "Male": (GLOBAL_MALE, GLOBAL_MALE_CI), "Female": (GLOBAL_FEMALE, GLOBAL_FEMALE_CI)}),
    ("High SDI", {"Both": (HIGH_BOTH, HIGH_BOTH_CI), "Male": (HIGH_MALE, HIGH_MALE_CI), "Female": (HIGH_FEMALE, HIGH_FEMALE_CI)}),
    ("High-middle SDI", {"Both": (HM_BOTH, HM_BOTH_CI), "Male": (HM_MALE, HM_MALE_CI), "Female": (HM_FEMALE, HM_FEMALE_CI)}),
    ("Middle SDI", {"Both": (MID_BOTH, MID_BOTH_CI), "Male": (MID_MALE, MID_MALE_CI), "Female": (MID_FEMALE, MID_FEMALE_CI)}),
    ("Low-middle SDI", {"Both": (LM_BOTH, LM_BOTH_CI), "Male": (LM_MALE, LM_MALE_CI), "Female": (LM_FEMALE, LM_FEMALE_CI)}),
    ("Low SDI", {"Both": (LOW_BOTH, LOW_BOTH_CI), "Male": (LOW_MALE, LOW_MALE_CI), "Female": (LOW_FEMALE, LOW_FEMALE_CI)}),
]
B_PANELS = [("Global", GLOBAL_SHARES), ("High SDI", HIGH_SHARES), ("High-middle SDI", HM_SHARES),
            ("Middle SDI", MID_SHARES), ("Low-middle SDI", LM_SHARES), ("Low SDI", LOW_SHARES)]

# ---------------- geometry (pixels in the 678 x 681 canvas) ----------------
A_COLS = [(48.9, 232.2), (261.9, 445.2), (484.6, 667.9)]
A_ROWS = [(33, 120), (170, 249.5)]
A_XRANGE = [-5.5, 91]
A_YRANGES = [[-6.73, 0.32], [-11.6, 3.83], [-13.16, 1.77],
             [-9.65, 1.13], [-5.16, 0.68], [-3.0, 0.59]]
# axis-line extents (x, y) in data units; None = full panel edge
A_AXIS_SPAN = [((-1.3, 80), (-6.5, -0.8)), ((0, 80), (-10, 2)), (None, None),
               (None, None), (None, None), (None, None)]
B_COLS = [(45.6, 182.8), (223.0, 360.2), (400.3, 537.5)]
B_ROWS = [(327, 458), (516.7, 647.7)]
B_XRANGE = [1987.9, 2021.05]
B_YRANGE = [-5, 105]

AXIS_COLOR = "#3a3a3a"
TICK_FONT = dict(family=FONT, size=10, color="#3a3a3a")


def fx(px):
    return px / W


def fy(px):
    return 1 - px / H


def ax_names(n):
    return ("x" if n == 1 else f"x{n}", "y" if n == 1 else f"y{n}",
            "xaxis" if n == 1 else f"xaxis{n}", "yaxis" if n == 1 else f"yaxis{n}")


fig = go.Figure()
layout = {}
shapes = []
annotations = []


def add_text(text, x, y, size=12, xanchor="center", angle=0, color="#222"):
    annotations.append(dict(text=text, x=fx(x), y=fy(y), xref="paper", yref="paper",
                            showarrow=False, xanchor=xanchor, yanchor="middle",
                            textangle=angle, font=dict(family=FONT, size=size, color=color)))


# ---- Panel A ----
for i, (title, series) in enumerate(A_PANELS):
    n = i + 1
    xn, yn, xk, yk = ax_names(n)
    c0, c1 = A_COLS[i % 3]
    r0, r1 = A_ROWS[i // 3]
    for sex in RIBBON_ORDER:
        vals, ci = series[sex]
        lower = [v - h for v, h in zip(vals, ci)]
        upper = [v + h for v, h in zip(vals, ci)]
        fig.add_trace(go.Scatter(x=AGES, y=lower, mode="lines", line=dict(width=0, shape="spline"),
                                 showlegend=False, hoverinfo="skip", xaxis=xn, yaxis=yn))
        fig.add_trace(go.Scatter(x=AGES, y=upper, mode="lines", line=dict(width=0, shape="spline"),
                                 fill="tonexty", fillcolor=SEX_FILL[sex],
                                 showlegend=False, hoverinfo="skip", xaxis=xn, yaxis=yn))
    for sex in LINE_ORDER:
        vals, _ = series[sex]
        fig.add_trace(go.Scatter(
            x=AGES, y=vals, mode="lines+markers", name=sex, showlegend=False,
            line=dict(color=SEX_LINE[sex], width=1.1, dash="3px,2px"),
            marker=dict(symbol="circle", size=4.6, color="white",
                        line=dict(color=SEX_LINE[sex], width=1.1)),
            xaxis=xn, yaxis=yn))
    xspan, yspan = A_AXIS_SPAN[i]
    layout[xk] = dict(domain=[fx(c0), fx(c1)], range=A_XRANGE, anchor=yn,
                      tickvals=A_XTICKS, ticks="outside", ticklen=3, tickcolor=AXIS_COLOR,
                      showline=xspan is None, linecolor=AXIS_COLOR, linewidth=1,
                      showgrid=False, zeroline=False, tickfont=TICK_FONT)
    layout[yk] = dict(domain=[fy(r1), fy(r0)], range=A_YRANGES[i], anchor=xn,
                      tickvals=A_YTICKS[i], tickformat=".1f" if i == 5 else "d",
                      ticks="outside", ticklen=3, tickcolor=AXIS_COLOR,
                      showline=yspan is None, linecolor=AXIS_COLOR, linewidth=1,
                      showgrid=False, zeroline=False, tickfont=TICK_FONT)
    if xspan is not None:
        shapes.append(dict(type="line", xref=xn, yref=f"{yn} domain", x0=xspan[0], x1=xspan[1],
                           y0=0, y1=0, line=dict(color=AXIS_COLOR, width=1)))
    if yspan is not None:
        shapes.append(dict(type="line", xref=f"{xn} domain", yref=yn, x0=0, x1=0,
                           y0=yspan[0], y1=yspan[1], line=dict(color=AXIS_COLOR, width=1)))
    shapes.append(dict(type="line", xref=f"{xn} domain", yref=yn, x0=0, x1=1, y0=0, y1=0,
                       line=dict(color="#b4b4b4", width=1, dash="1px,3px"), layer="below"))
    add_text(title, (c0 + c1) / 2, r0 - 8 if i < 3 else r0 - 13, size=12.5)
    if i >= 3:
        add_text("Age", (c0 + c1) / 2, 277.5, size=12.5)

add_text("Mean change per<br>calendar year (%)", 14, 81, size=12, angle=-90)
add_text("Mean change per<br>calendar year (%)", 14, 211, size=12, angle=-90)

# ---- Panel B ----
for i, (title, shares) in enumerate(B_PANELS):
    n = 7 + i
    xn, yn, xk, yk = ax_names(n)
    c0, c1 = B_COLS[i % 3]
    r0, r1 = B_ROWS[i // 3]
    rows = [[float(v) for v in s.split()] for s in shares]
    totals = [sum(col) for col in zip(*rows)]
    for k, row in enumerate(rows):
        pct = [100 * v / t for v, t in zip(row, totals)]
        fig.add_trace(go.Bar(x=YEARS, y=pct, name=AGE_GROUPS[k], marker_color=AGE_COLORS[k],
                             marker_line_width=0, showlegend=False, xaxis=xn, yaxis=yn))
    layout[xk] = dict(domain=[fx(c0), fx(c1)], range=B_XRANGE, anchor=yn,
                      tickvals=B_XTICKS, ticks="outside", ticklen=3, tickcolor=AXIS_COLOR,
                      showline=True, linecolor=AXIS_COLOR, linewidth=1,
                      showgrid=False, zeroline=False, tickfont=TICK_FONT)
    layout[yk] = dict(domain=[fy(r1), fy(r0)], range=B_YRANGE, anchor=xn,
                      tickvals=B_YTICKS, ticks="outside", ticklen=3, tickcolor=AXIS_COLOR,
                      showline=True, linecolor=AXIS_COLOR, linewidth=1,
                      showgrid=False, zeroline=False, tickfont=TICK_FONT)
    add_text(title, (c0 + c1) / 2, r0 - 10, size=12.5)
    if i >= 3:
        add_text("Year", (c0 + c1) / 2, 675, size=12.5)

add_text("Deaths (%)", 14, 392, size=12, angle=-90)
add_text("Deaths (%)", 14, 580, size=12, angle=-90)

add_text("A", 8, 9, size=16, color="#111")
add_text("B", 8, 304, size=16, color="#111")

# ---- legends ----
xn, yn, xk, yk = ax_names(13)
for j, sex in enumerate(SEXES):
    fig.add_trace(go.Scatter(
        x=[0.05, 0.5, 0.95], y=[j + 1, j + 1, j + 1], mode="lines+markers", showlegend=False,
        line=dict(color=SEX_LINE[sex], width=1.1, dash="3px,2px"),
        marker=dict(symbol="circle", size=[0, 4.6, 0], color="white",
                    line=dict(color=SEX_LINE[sex], width=1.1)),
        hoverinfo="skip", xaxis=xn, yaxis=yn))
    add_text(sex, 603, 327 + 14.7 * j, size=11, xanchor="left")
layout[xk] = dict(domain=[fx(582), fx(599)], range=[0, 1], visible=False, anchor=yn)
layout[yk] = dict(domain=[fy(362), fy(320)], range=[3.41, 0.52], visible=False, anchor=xn)
add_text("Sex", 583, 313, size=11, xanchor="left")

add_text("Age", 583, 383, size=11, xanchor="left")
for j, k in enumerate(reversed(range(len(AGE_GROUPS)))):
    yc = 404 + 14.65 * j
    shapes.append(dict(type="rect", xref="paper", yref="paper",
                       x0=fx(584), x1=fx(597), y0=fy(yc + 6.6), y1=fy(yc - 6.6),
                       fillcolor=AGE_COLORS[k], line=dict(width=0)))
    add_text(AGE_GROUPS[k], 603, yc, size=11, xanchor="left")

fig.update_layout(
    **layout,
    width=W, height=H,
    margin=dict(l=0, r=0, t=0, b=0),
    paper_bgcolor="white", plot_bgcolor="white",
    barmode="stack", bargap=0.25,
    showlegend=False,
    shapes=shapes, annotations=annotations,
    font=dict(family=FONT, color="#222"),
)

fig.write_html("out.html", config={"displayModeBar": False},
               post_script="document.body.style.margin='0';")
